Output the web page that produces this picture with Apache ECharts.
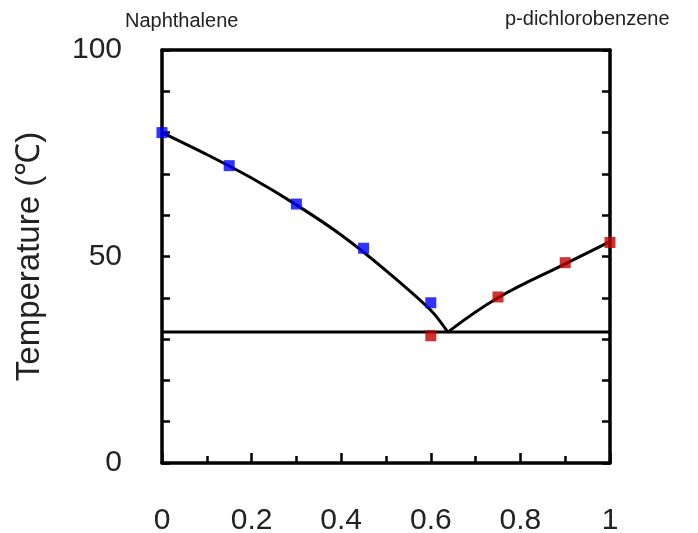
<!DOCTYPE html>
<html>
<head>
<meta charset="utf-8">
<script src="https://cdn.jsdelivr.net/npm/echarts@6/dist/echarts.min.js"></script>
<style>
  html, body { margin: 0; padding: 0; background: #fff; }
  #chart { width: 698px; height: 533px; }
</style>
</head>
<body>
<div id="chart"></div>
<script>
// measured points (mole fraction of p-dichlorobenzene, temperature)
const naphX = [0, 0.15, 0.3, 0.45, 0.6];
const naphT = [80, 72, 62.7, 52, 38.8];
const dcbX = [0.6, 0.75, 0.9, 1.0];
const dcbT = [30.8, 40.2, 48.5, 53.4];
// fitted liquidus curves and eutectic line
const leftCurveX = [0, 0.1, 0.2, 0.3, 0.4, 0.5, 0.6, 0.638];
const leftCurveT = [80, 74.7, 69, 62.5, 55.2, 46.6, 37, 31.7];
const rightCurveX = [0.638, 0.75, 0.9, 1.0];
const rightCurveT = [31.7, 40.0, 48.2, 53.6];
const eutecticX = [0, 1];
const eutecticT = [31.7, 31.7];
// labelled y ticks
const yLabels = [0, 50, 100];

const pairs = (xs, ys) => xs.map((x, i) => [x, ys[i]]);
const near = (list, v) => list.some(t => Math.abs(t - v) < 1e-6);

const chart = echarts.init(document.getElementById("chart"));
const black = "#000";
const fontFam = "'Liberation Sans', Arial, sans-serif";

const lineSeries = (xs, ys, smooth) => ({
  type: "line",
  data: pairs(xs, ys),
  showSymbol: false,
  smooth: smooth,
  lineStyle: { color: black, width: 3 },
  z: 2,
  silent: true
});

const dotSeries = (xs, ys, color) => ({
  type: "scatter",
  data: pairs(xs, ys),
  symbol: "rect",
  symbolSize: 11,
  itemStyle: { color: color },
  clip: false,
  z: 5
});

const tickStyle = { color: black, width: 2.5 };
const frameLine = { show: true, onZero: false, lineStyle: { color: black, width: 3.5 } };

let option = {
  animation: false,
  grid: { left: 162, right: 88, top: 50, bottom: 70, outerBoundsMode: "none" },
  xAxis: [
    {
      type: "value",
      position: "bottom",
      min: 0,
      max: 1,
      interval: 0.2,
      axisLine: frameLine,
      axisTick: { show: true, inside: true, length: 10, lineStyle: tickStyle },
      minorTick: { show: true, splitNumber: 2, length: 7, lineStyle: tickStyle },
      splitLine: { show: false },
      axisLabel: {
        color: "#222",
        fontSize: 30,
        fontFamily: fontFam,
        margin: 43,
        formatter: v => String(+v.toFixed(1))
      }
    },
    {
      type: "value",
      position: "top",
      min: 0,
      max: 1,
      axisLine: frameLine,
      axisTick: { show: false },
      axisLabel: { show: false },
      splitLine: { show: false }
    }
  ],
  yAxis: [
    {
      type: "value",
      position: "left",
      min: 0,
      max: 100,
      interval: 10,
      name: "Temperature (℃)",
      nameLocation: "middle",
      nameGap: 116,
      nameTextStyle: { color: "#222", fontSize: 33, fontFamily: fontFam },
      axisLine: frameLine,
      axisTick: { show: true, inside: true, length: 8, lineStyle: tickStyle },
      splitLine: { show: false },
      axisLabel: {
        color: "#222",
        fontSize: 30,
        fontFamily: fontFam,
        margin: 40,
        formatter: v => (near(yLabels, v) ? String(v) : "")
      }
    },
    {
      type: "value",
      position: "right",
      min: 0,
      max: 100,
      interval: 10,
      axisLine: frameLine,
      axisTick: { show: true, inside: true, length: 8, lineStyle: tickStyle },
      splitLine: { show: false },
      axisLabel: { show: false }
    }
  ],
  graphic: [
    {
      type: "text",
      left: 125,
      top: 11,
      style: { text: "Naphthalene", fill: "#222", fontSize: 20, fontFamily: fontFam }
    },
    {
      type: "text",
      left: 505,
      top: 9,
      style: { text: "p-dichlorobenzene", fill: "#222", fontSize: 20, fontFamily: fontFam }
    }
  ],
  series: [
    lineSeries(eutecticX, eutecticT, false),
    lineSeries(leftCurveX, leftCurveT, 0.3),
    lineSeries(rightCurveX, rightCurveT, 0.4),
    dotSeries(naphX, naphT, "#0000ff"),
    dotSeries(dcbX, dcbT, "#c00000")
  ]
};

chart.setOption(option);
</script>
</body>
</html>
